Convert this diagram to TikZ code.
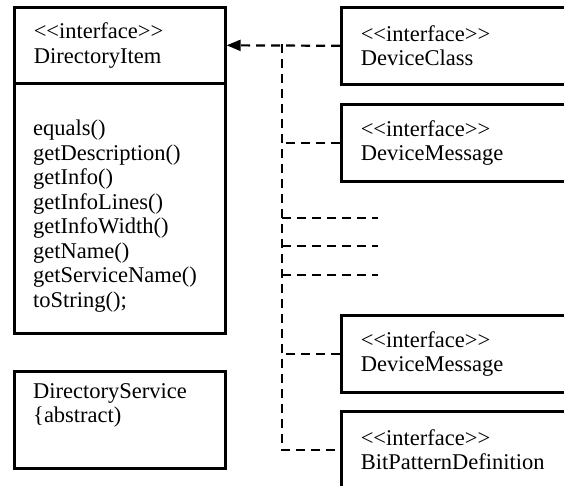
\documentclass[tikz,border=0pt]{standalone}
\usepackage{fontspec}
\setmainfont{Liberation Serif}
\usetikzlibrary{arrows.meta,positioning}
\newcommand{\umlfont}{\fontsize{22.5}{24.5}\selectfont}

\begin{document}
\begin{tikzpicture}[x=1pt, y=-1pt,
    umlbox/.style={rectangle, draw=black, line width=2.6pt, anchor=north west,
                   minimum width=211pt, align=left, text width=172pt,
                   inner xsep=19.5pt, inner ysep=0pt, font=\umlfont},
    iface/.style={umlbox, minimum width=240pt, minimum height=77pt, text width=201pt},
    txt/.style={align=left, inner sep=0pt, anchor=west, font=\umlfont},
    realize/.style={dash pattern=on 9pt off 6pt, line width=2.2pt},
    tip/.style={-{Triangle[length=14pt, width=11pt]}}]
  \useasboundingbox (0,0) rectangle (564,485);
  \clip (0,0) rectangle (564,485);
  % left side: the interface and the service
  \node[umlbox, minimum height=76pt] (itemhead) at (13,6) {<{}<interface>{}>\\DirectoryItem};
  \node[umlbox, minimum height=250pt] (itembody) at (13,82) {};
  \node[txt] (itemops) at (33,216) {equals()\\getDescription()\\getInfo()\\getInfoLines()\\getInfoWidth()\\getName()\\getServiceName()\\toString();};
  \node[umlbox, minimum height=97pt] (service) at (13,370) {};
  \node[txt] (servicetxt) at (33,405.5) {DirectoryService\\\{abstract)};
  % right side: sub-interfaces
  \node[iface] (devclass) at (340,6)   {<{}<interface>{}>\\DeviceClass};
  \node[iface] (devmsg)   at (340,103) {<{}<interface>{}>\\DeviceMessage};
  \node[iface] (devmsgb)  at (340,314) {<{}<interface>{}>\\DeviceMessage};
  \node[iface] (bitpat)   at (340,410) {<{}<interface>{}>\\BitPatternDefinition};
  % realization lines
  \coordinate (bustop) at (282,44);
  \draw[realize, tip] (devclass.west) -- (itemhead.east);
  \draw[realize] (bustop) |- (bitpat.west);
  \draw[realize] (devmsg.west) -- (devmsg.west -| bustop);
  \draw[realize] (devmsgb.west) -- (devmsgb.west -| bustop);
  \foreach \y/\n in {218/a, 246/b, 275/c} {
    \coordinate (stub\n) at (378,\y);
    \draw[realize] (stub\n -| bustop) -- (stub\n);
  }
\end{tikzpicture}
\end{document}
